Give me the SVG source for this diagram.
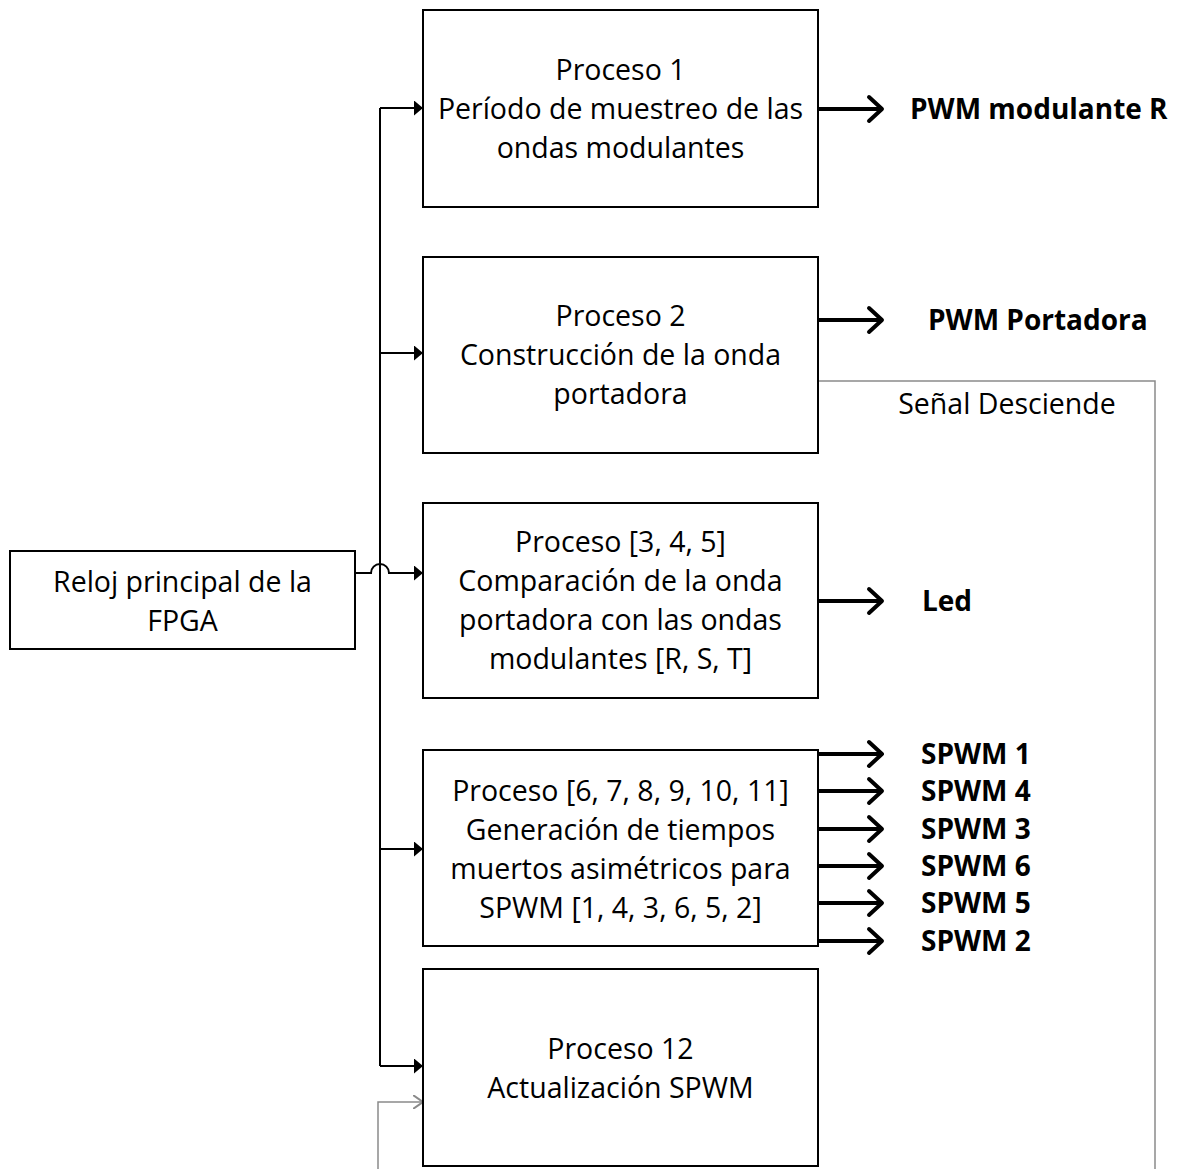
<svg xmlns="http://www.w3.org/2000/svg" width="1178" height="1169" viewBox="0 0 1178 1169">
  <defs>
    <marker id="tri" viewBox="0 0 10 10" refX="10" refY="5" markerWidth="9" markerHeight="15" markerUnits="userSpaceOnUse" orient="auto" preserveAspectRatio="none">
      <path d="M0,0 L10,5 L0,10 Z" fill="#000"/>
    </marker>
    <marker id="thin" viewBox="0 0 10 10" refX="10" refY="5" markerWidth="10" markerHeight="14" markerUnits="userSpaceOnUse" orient="auto" preserveAspectRatio="none">
      <path d="M0,0 L10,5 L0,10" fill="none" stroke="#8a8a8a" stroke-width="1.5"/>
    </marker>
  </defs>
  <style>
    .box { fill: #fff; stroke: #000; stroke-width: 2; }
    .txt { font-family: "Open Sans", "Liberation Sans", sans-serif; font-size: 28.5px; fill: #000; text-anchor: middle; }
    .lbl { font-family: "Open Sans", "Liberation Sans", sans-serif; font-size: 28px; font-weight: bold; fill: #000; }
    .bus { fill: none; stroke: #000; stroke-width: 2; }
    .out { fill: none; stroke: #000; stroke-width: 4; stroke-linecap: round; stroke-linejoin: round; }
    .grey { fill: none; stroke: #8a8a8a; stroke-width: 1.5; }
  </style>
  <rect width="1178" height="1169" fill="#fff"/>

  <!-- clock distribution and feedback lines -->
  <g id="connectors">
    <path class="bus" d="M380,108 V1066"/>
    <path class="bus" d="M380,108 H423" marker-end="url(#tri)"/>
    <path class="bus" d="M380,353 H423" marker-end="url(#tri)"/>
    <path class="bus" d="M355,573 H371 A9,9 0 0 1 389,573 H423" marker-end="url(#tri)"/>
    <path class="bus" d="M380,849 H423" marker-end="url(#tri)"/>
    <path class="bus" d="M380,1066 H423" marker-end="url(#tri)"/>
    <path class="grey" d="M378,1169 V1102 H423" marker-end="url(#thin)"/>
    <path class="grey" d="M818,381 H1155 V1169" stroke="#777"/>
    <!-- output arrows -->
    <g class="out">
      <path d="M818,109 H881 M869,97 L882,109 L869,121"/>
      <path d="M818,320 H881 M869,308 L882,320 L869,332"/>
      <path d="M818,601 H881 M869,589 L882,601 L869,613"/>
      <path d="M818,754 H881 M869,742 L882,754 L869,766"/>
      <path d="M818,791 H881 M869,779 L882,791 L869,803"/>
      <path d="M818,829 H881 M869,817 L882,829 L869,841"/>
      <path d="M818,866 H881 M869,854 L882,866 L869,878"/>
      <path d="M818,903 H881 M869,891 L882,903 L869,915"/>
      <path d="M818,941 H881 M869,929 L882,941 L869,953"/>
    </g>
    <text class="txt" x="1007" y="414">Señal Desciende</text>
  </g>

  <g id="reloj">
    <rect class="box" x="10" y="551" width="345" height="98"/>
    <text class="txt" x="182.5" y="592">Reloj principal de la</text>
    <text class="txt" x="182.5" y="631">FPGA</text>
  </g>

  <g id="proceso1">
    <rect class="box" x="423" y="10" width="395" height="197"/>
    <text class="txt" x="620.5" y="80">Proceso 1</text>
    <text class="txt" x="620.5" y="119">Período de muestreo de las</text>
    <text class="txt" x="620.5" y="158">ondas modulantes</text>
  </g>

  <g id="proceso2">
    <rect class="box" x="423" y="257" width="395" height="196"/>
    <text class="txt" x="620.5" y="326">Proceso 2</text>
    <text class="txt" x="620.5" y="365">Construcción de la onda</text>
    <text class="txt" x="620.5" y="404">portadora</text>
  </g>

  <g id="proceso3">
    <rect class="box" x="423" y="503" width="395" height="195"/>
    <text class="txt" x="620.5" y="552">Proceso [3, 4, 5]</text>
    <text class="txt" x="620.5" y="591">Comparación de la onda</text>
    <text class="txt" x="620.5" y="630">portadora con las ondas</text>
    <text class="txt" x="620.5" y="669">modulantes [R, S, T]</text>
  </g>

  <g id="proceso4">
    <rect class="box" x="423" y="750" width="395" height="196"/>
    <text class="txt" x="620.5" y="801">Proceso [6, 7, 8, 9, 10, 11]</text>
    <text class="txt" x="620.5" y="840">Generación de tiempos</text>
    <text class="txt" x="620.5" y="879">muertos asimétricos para</text>
    <text class="txt" x="620.5" y="918">SPWM [1, 4, 3, 6, 5, 2]</text>
  </g>

  <g id="proceso12">
    <rect class="box" x="423" y="969" width="395" height="197"/>
    <text class="txt" x="620.5" y="1059">Proceso 12</text>
    <text class="txt" x="620.5" y="1098">Actualización SPWM</text>
  </g>

  <g id="salidas">
    <text class="lbl" x="910" y="119">PWM modulante R</text>
    <text class="lbl" x="928" y="330">PWM Portadora</text>
    <text class="lbl" x="922" y="611">Led</text>
    <text class="lbl" x="921" y="764">SPWM 1</text>
    <text class="lbl" x="921" y="801">SPWM 4</text>
    <text class="lbl" x="921" y="839">SPWM 3</text>
    <text class="lbl" x="921" y="876">SPWM 6</text>
    <text class="lbl" x="921" y="913">SPWM 5</text>
    <text class="lbl" x="921" y="951">SPWM 2</text>
  </g>
</svg>
